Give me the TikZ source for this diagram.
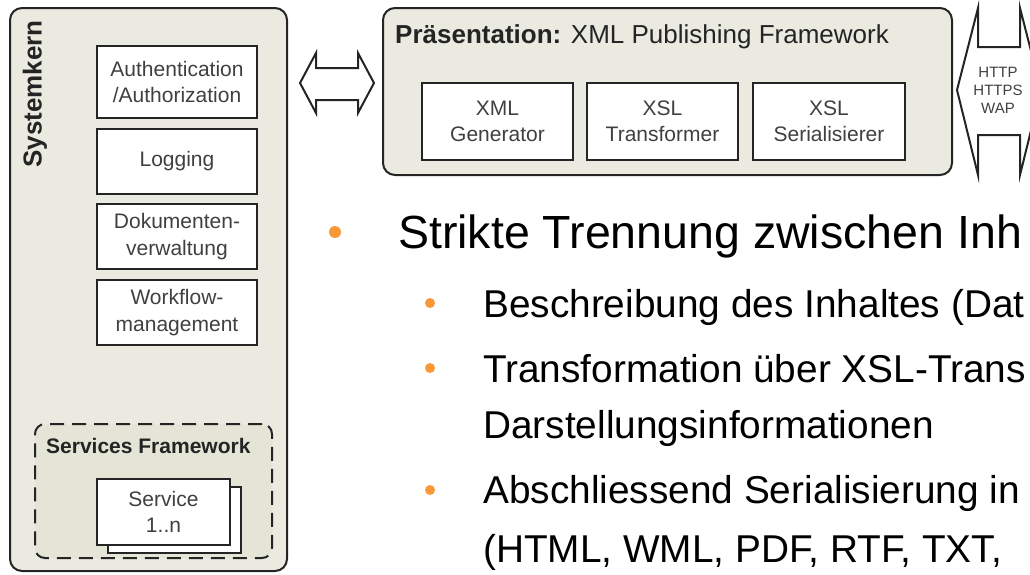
\documentclass[tikz,border=0pt]{standalone}
\usepackage{fontspec}
\setmainfont{Liberation Sans}
\definecolor{boxfill}{RGB}{234,234,224}
\definecolor{dashfill}{RGB}{228,229,215}
\definecolor{frame}{RGB}{36,36,36}
\definecolor{txt}{RGB}{64,64,64}
\definecolor{bul}{RGB}{248,152,56}
\begin{document}
\begin{tikzpicture}[x=1pt,y=-1pt,
  outerbox/.style={draw=frame, line width=2pt, fill=boxfill, rounded corners=12pt, inner sep=0pt},
  compbox/.style={draw=frame, line width=2.2pt, fill=white, inner sep=0pt, align=center, text=txt,
                  font=\fontsize{21}{26.5}\selectfont},
  fatarrow/.style={draw=frame, line width=2pt, fill=white, line join=miter},
  bulletdot/.style={circle, fill=bul, inner sep=0pt},
  maintext/.style={anchor=base west, inner sep=0pt, font=\fontsize{46.5}{56}\selectfont},
  subtext/.style={anchor=base west, inner sep=0pt, font=\fontsize{38.8}{57}\selectfont},
  boldlabel/.style={inner sep=0pt, text=frame, font=\bfseries\fontsize{21}{25}\selectfont},
]
\useasboundingbox (0,0) rectangle (1030,574);
\clip (0,0) rectangle (1030,574);

% ---------- Systemkern ----------
\node[outerbox, minimum width=277pt, minimum height=563pt] (sys) at (148.5,289.5) {};
\node[rotate=90, inner sep=0pt, text=frame, font=\bfseries\fontsize{26}{30}\selectfont] (syslabel) at (35,94) {Systemkern};

\node[compbox, minimum width=160pt, minimum height=72pt] (auth) at (177,82) {Authentication\\/Authorization};
\node[compbox, minimum width=160pt, minimum height=65pt] (log) at (177,161.5) {Logging};
\node[compbox, minimum width=160pt, minimum height=65pt] (doc) at (177,236.5) {Dokumenten-\\verwaltung};
\node[compbox, minimum width=160pt, minimum height=65pt] (wf) at (177,312.5) {Workflow-\\management};

\node[draw=frame, line width=2pt, dash pattern=on 14pt off 8pt, rounded corners=10pt, fill=dashfill,
      minimum width=237pt, minimum height=134pt, inner sep=0pt] (sf) at (153.5,491) {};
\node[boldlabel, anchor=base west] (sflabel) at (46,453) {Services Framework};
\node[compbox, minimum width=133pt, minimum height=66pt] (svcback) at (174.5,520) {};
\node[compbox, minimum width=133pt, minimum height=66pt] (svc) at (163.5,512) {Service\\1..n};

% ---------- double arrow between the boxes ----------
\coordinate (a1) at (300,83);
\coordinate (a2) at (374,83);
\draw[fatarrow] (a1) -- ++(16,-30) -- ++(0,15) -- ++(42,0) -- ++(0,-15) -- (a2)
  -- ++(-16,30) -- ++(0,-13) -- ++(-42,0) -- ++(0,13) -- cycle;

% ---------- Praesentation ----------
\node[outerbox, minimum width=569pt, minimum height=167pt] (pres) at (667.5,91.5) {};
\node[anchor=base west, inner sep=0pt, text=frame, font=\fontsize{26}{30}\selectfont] (prestitle) at (395,43)
  {\textbf{Präsentation:} XML Publishing Framework};
\node[compbox, minimum width=151pt, minimum height=77pt] (xmlgen) at (497.5,121.5) {XML\\Generator};
\node[compbox, minimum width=151pt, minimum height=77pt] (xsltr) at (662.5,121.5) {XSL\\Transformer};
\node[compbox, minimum width=152pt, minimum height=77pt] (xslser) at (829,121.5) {XSL\\Serialisierer};

% ---------- protocol arrow ----------
\coordinate (p1) at (957,90);
\coordinate (p2) at (1041,90);
\draw[fatarrow] (p1) -- ++(21,-82) -- ++(0,39) -- ++(42,0) -- ++(0,-39) -- (p2)
  -- ++(-21,85) -- ++(0,-40) -- ++(-42,0) -- ++(0,40) -- cycle;
\node[inner sep=0pt, align=center, text=txt, font=\fontsize{15}{18}\selectfont] (proto) at (998,90) {HTTP\\HTTPS\\WAP};

% ---------- bullet text ----------
\node[bulletdot, minimum size=12pt] (b0) at (335,232) {};
\node[maintext] (t0) at (398,248) {Strikte Trennung zwischen Inh};
\node[bulletdot, minimum size=10pt] (b1) at (430,303) {};
\node[subtext] (t1) at (483,317) {Beschreibung des Inhaltes (Dat};
\node[bulletdot, minimum size=10pt] (b2) at (430,368) {};
\node[subtext] (t2) at (483,382) {Transformation über XSL-Trans};
\node[subtext] (t2b) at (483,438) {Darstellungsinformationen};
\node[bulletdot, minimum size=10pt] (b3) at (430,490) {};
\node[subtext] (t3) at (483,503) {Abschliessend Serialisierung in};
\node[subtext] (t3b) at (483,562) {(HTML, WML, PDF, RTF, TXT,};
\end{tikzpicture}
\end{document}
